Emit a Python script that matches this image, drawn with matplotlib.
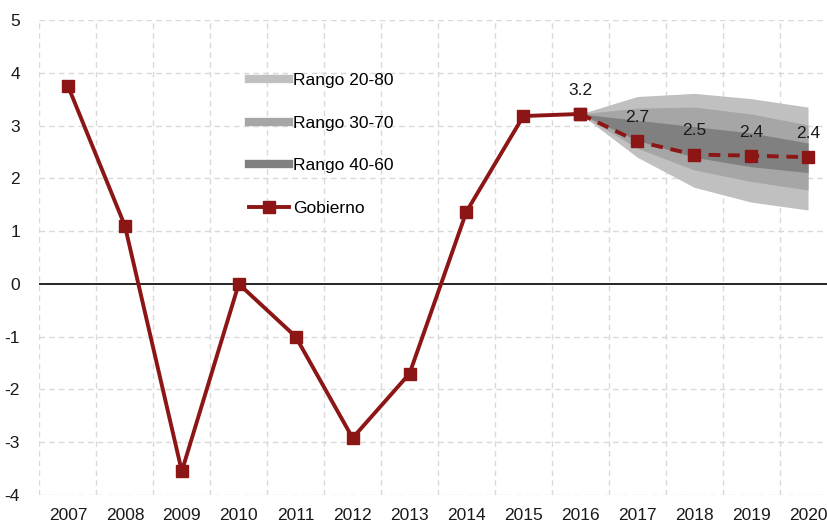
import matplotlib
matplotlib.use('Agg')
import matplotlib.pyplot as plt
from matplotlib.lines import Line2D
import numpy as np

plt.rcParams['font.family'] = ['Liberation Sans', 'DejaVu Sans']
plt.rcParams['axes.unicode_minus'] = False

years = ['2007', '2008', '2009', '2010', '2011', '2012', '2013', '2014',
         '2015', '2016', '2017', '2018', '2019', '2020']
gobierno = [3.75, 1.1, -3.55, 0.0, -1.0, -2.92, -1.7, 1.37, 3.18, 3.22,
            2.7, 2.45, 2.43, 2.4]

# fan chart, 2016-2020
fan_years = ['2016', '2017', '2018', '2019', '2020']
r2080_lo = [3.22, 2.40, 1.83, 1.55, 1.40]
r2080_hi = [3.22, 3.55, 3.61, 3.51, 3.35]
r3070_lo = [3.22, 2.57, 2.16, 1.94, 1.78]
r3070_hi = [3.22, 3.33, 3.35, 3.22, 3.01]
r4060_lo = [3.22, 2.72, 2.40, 2.22, 2.11]
r4060_hi = [3.22, 3.10, 2.98, 2.86, 2.67]

labels_years = ['2016', '2017', '2018', '2019', '2020']
labels_text = ['3.2', '2.7', '2.5', '2.4', '2.4']

red = '#8C1515'
c1, c2, c3 = '#C0C0C0', '#A6A6A6', '#808080'

fig = plt.figure(figsize=(8.28, 5.25), dpi=100)
ax = fig.add_axes([39.5 / 828, 30 / 525, 797 / 828, 475 / 525])

x = np.arange(len(years))
xf = np.array([years.index(y) for y in fan_years])

ax.fill_between(xf, r2080_lo, r2080_hi, color=c1, lw=0, zorder=2)
ax.fill_between(xf, r3070_lo, r3070_hi, color=c2, lw=0, zorder=3)
ax.fill_between(xf, r4060_lo, r4060_hi, color=c3, lw=0, zorder=4)

split = years.index('2016')
ax.plot(x[:split + 1], gobierno[:split + 1], color=red, lw=2.8,
        marker='s', ms=9, zorder=6)
ax.plot(x[split:], gobierno[split:], color=red, lw=2.8, ls=(0, (3, 2)),
        marker='s', ms=9, zorder=6)

for yr, txt in zip(labels_years, labels_text):
    i = years.index(yr)
    ax.annotate(txt, (i, gobierno[i]), xytext=(0, 17),
                textcoords='offset points', ha='center', va='center',
                fontsize=12.5, color='#1a1a1a', zorder=7)

ax.axhline(0, color='black', lw=1.2, zorder=5)

ax.set_xlim(-0.5, 13.5)
ax.set_ylim(-4, 5)
ax.set_xticks(x)
ax.set_xticklabels(years)
ax.set_yticks(range(-4, 6))
ax.tick_params(axis='both', which='both', length=0, labelsize=12.5,
               colors='#1a1a1a')
ax.tick_params(axis='x', pad=9)
ax.tick_params(axis='y', pad=14)
ax.grid(False)
for xv in np.arange(-0.5, 14, 1):
    ax.axvline(xv, color='#D9D9D9', lw=1, ls=(0, (4, 3)), zorder=1)
for yv in range(-4, 6):
    if yv != 0:
        ax.axhline(yv, color='#D9D9D9', lw=1, ls=(0, (4, 3)), zorder=1)
for s in ax.spines.values():
    s.set_visible(False)

handles = [
    Line2D([], [], color=c1, lw=6),
    Line2D([], [], color=c2, lw=6),
    Line2D([], [], color=c3, lw=6),
    Line2D([], [], color=red, lw=2.8, marker='s', ms=9),
]
names = ['Rango 20-80', 'Rango 30-70', 'Rango 40-60', 'Gobierno']
fig.legend(handles, names, loc='upper left',
           bbox_to_anchor=(242 / 828, 1 - 66 / 525), frameon=False,
           fontsize=12.5, handlelength=2.3, handletextpad=0.25,
           labelspacing=1.58, borderaxespad=0)

plt.savefig('out.png', dpi=100)
